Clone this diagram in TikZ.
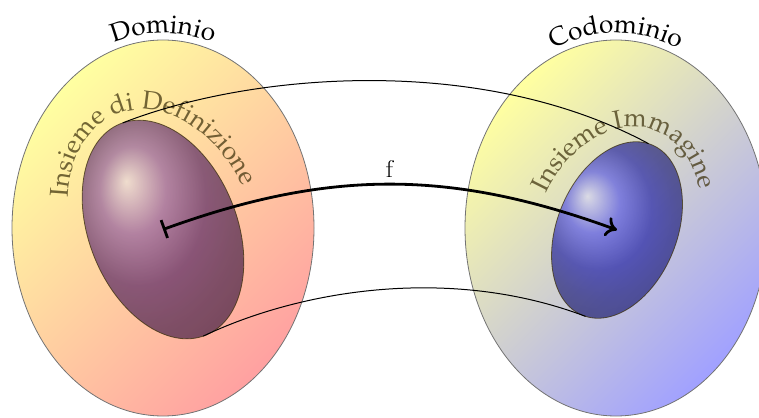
\documentclass[tikz,border=0pt]{standalone}
\usepackage[T1]{fontenc}
\usepackage{mathpazo}
\usetikzlibrary{decorations.text,arrows.meta}
\definecolor{setcol}{RGB}{60,48,10}
\definecolor{ballL}{RGB}{85,15,130}
\definecolor{ballR}{RGB}{10,10,225}
\newcommand\bigfont{\fontsize{26}{30}\selectfont}
\tikzset{
  outerset/.style={fill opacity=0.37, draw=black!55, line width=0.8pt},
  innerset/.style={fill opacity=0.6, draw=setcol, draw opacity=0.75, line width=0.8pt},
  tube/.style={line width=1pt},
  mapping/.style={line width=2.8pt, arrows={Bar[width=19pt]-To[length=11pt,width=20pt]}},
  flabel/.style={above=2pt, font=\usefont{T1}{lmss}{m}{n}\fontsize{25}{28}\selectfont, text=black},
  settext/.style={fill opacity=0.72}
}
\begin{document}
\begin{tikzpicture}[x=1pt,y=1pt]
\useasboundingbox (0,0) rectangle (759,417);
% outer sets
\shadedraw[outerset, top color=yellow, bottom color=red, shading angle=45]
  (163,189) ellipse[x radius=151pt, y radius=188pt];
\shadedraw[outerset, top color=yellow, bottom color=blue, shading angle=45]
  (616,189) ellipse[x radius=151pt, y radius=188pt];
% outer labels
\path[decorate, decoration={text along path, text={|\bigfont|Dominio}, text align=center}]
  (163,189) ++(125:158pt and 195pt) arc[start angle=125, end angle=55, x radius=158pt, y radius=195pt];
\path[decorate, decoration={text along path, text={|\bigfont|Codominio}, text align=center}]
  (616,189) ++(125:158pt and 195pt) arc[start angle=125, end angle=55, x radius=158pt, y radius=195pt];
% inner left
\begin{scope}[shift={(163,187.5)}, rotate=22]
  \shadedraw[innerset, ball color=ballL] (0,0) ellipse[x radius=74pt, y radius=114pt];
  \coordinate (Lc) at (0,0);
  \coordinate (LT) at (88:74pt and 114pt);
  \coordinate (LB) at (268:74pt and 114pt);
  \begin{scope}[settext]
    \path[decorate, decoration={text along path, text={|\bigfont\color{setcol}|Insieme di Definizione}}]
      (148:90pt and 124pt) arc[start angle=148, end angle=-60, x radius=90pt, y radius=124pt];
  \end{scope}
\end{scope}
% inner right
\begin{scope}[shift={(617,187)}, rotate=-22]
  \shadedraw[innerset, ball color=ballR] (0,0) ellipse[x radius=60pt, y radius=92pt];
  \coordinate (Rc) at (0,0);
  \coordinate (RT) at (93:60pt and 92pt);
  \coordinate (RB) at (273:60pt and 92pt);
  \begin{scope}[settext]
    \path[decorate, decoration={text along path, text={|\bigfont\color{setcol}|Insieme Immagine}}]
      (176:80pt and 106pt) arc[start angle=176, end angle=-30, x radius=80pt, y radius=106pt];
  \end{scope}
\end{scope}
% tube lines
\draw[tube] (LT) .. controls (250,344) and (480,364) .. (RT);
\draw[tube] (LB) .. controls (300,127) and (450,152) .. (RB);
% mapping
\draw[mapping] (Lc) to[bend left=20] node[flabel]{f} (Rc);
\end{tikzpicture}
\end{document}
